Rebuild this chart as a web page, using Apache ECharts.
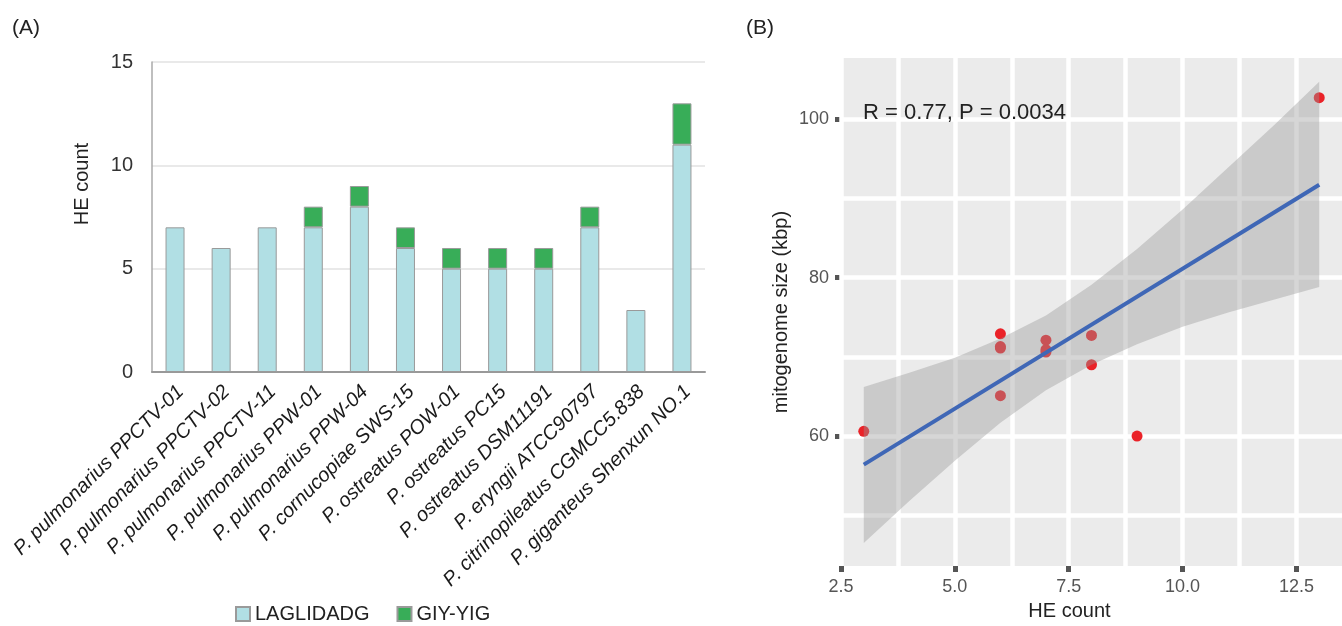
<!DOCTYPE html>
<html><head><meta charset="utf-8">
<script src="https://cdn.jsdelivr.net/npm/echarts@6/dist/echarts.min.js"></script>
<style>html,body{margin:0;padding:0;background:#fff}#c{width:1342px;height:626px}</style>
</head><body><div id="c"></div>
<script>
// ---- Panel A data ----
const strains = [
  'P. pulmonarius PPCTV-01', 'P. pulmonarius PPCTV-02', 'P. pulmonarius PPCTV-11',
  'P. pulmonarius PPW-01', 'P. pulmonarius PPW-04', 'P. cornucopiae SWS-15',
  'P. ostreatus POW-01', 'P. ostreatus PC15', 'P. ostreatus DSM11191',
  'P. eryngii ATCC90797', 'P. citrinopileatus CGMCC5.838', 'P. giganteus Shenxun NO.1'
];
const laglidadg = [7, 6, 7, 7, 8, 6, 5, 5, 5, 7, 3, 11];
const giyYig = [0, 0, 0, 1, 1, 1, 1, 1, 1, 1, 0, 2];

// ---- Panel B data ----
const heCount = [7, 6, 7, 8, 9, 7, 6, 6, 6, 8, 3, 13];
const mitoSize = [72.1, 72.9, 70.6, 72.7, 60.0, 70.9, 71.3, 65.1, 71.1, 69.0, 60.6, 102.7];
const fitX = [3, 13];
const fitY = [56.4, 91.7];
const ciX = [3, 4, 5, 6, 7, 8, 9, 10, 11, 12, 13];
const ciLow = [46.5, 51.8, 56.9, 61.7, 65.8, 69.0, 71.6, 73.8, 75.6, 77.2, 78.8];
const ciHigh = [66.2, 68.0, 69.9, 72.3, 75.2, 79.1, 83.6, 88.6, 93.9, 99.2, 104.7];
const xTicksB = [2.5, 5, 7.5, 10, 12.5];
const xMinorB = [3.75, 6.25, 8.75, 11.25];
const yTicksB = [60, 80, 100];
const yMinorB = [50, 70, 90];

const FONT = 'Liberation Sans, Arial, sans-serif';
const chart = echarts.init(document.getElementById('c'));

const gridLines = [
  ...xTicksB.map(v => ({ xAxis: v })), ...xMinorB.map(v => ({ xAxis: v })),
  ...yTicksB.map(v => ({ yAxis: v })), ...yMinorB.map(v => ({ yAxis: v }))
];

chart.setOption({
  animation: false,
  textStyle: { fontFamily: FONT },
  title: [
    { text: '(A)', left: 7, top: 13, textStyle: { fontSize: 21, fontWeight: 'normal', color: '#222', fontFamily: FONT } },
    { text: '(B)', left: 741, top: 13, textStyle: { fontSize: 21, fontWeight: 'normal', color: '#222', fontFamily: FONT } }
  ],
  legend: {
    data: ['LAGLIDADG', 'GIY-YIG'],
    left: 230, top: 599,
    itemWidth: 14, itemHeight: 14, itemGap: 27,
    icon: 'rect',
    textStyle: { fontSize: 20, color: '#222', fontFamily: FONT }
  },
  grid: [
    { left: 152, top: 62, width: 553, height: 310, containLabel: false },
    { left: 841, top: 58, width: 501, height: 510, show: true, backgroundColor: '#ebebeb', borderWidth: 0 }
  ],
  xAxis: [
    {
      type: 'category', gridIndex: 0, data: strains,
      axisLine: { lineStyle: { color: '#999', width: 2 } },
      axisTick: { show: false },
      axisLabel: {
        interval: 0, rotate: 45, margin: 11,
        formatter: v => '{a|' + v + '}',
        rich: { a: { fontSize: 20, fontStyle: 'italic', color: '#1a1a1a', fontFamily: FONT, padding: [16, 0, 0, 0] } }
      }
    },
    {
      type: 'value', gridIndex: 1, min: 2.5, max: 13.5, interval: 2.5,
      name: 'HE count', nameLocation: 'middle', nameGap: 31,
      nameTextStyle: { fontSize: 20, color: '#222', padding: [0, 44, 0, 0], fontFamily: FONT },
      axisLine: { show: false },
      axisTick: { show: true, customValues: xTicksB, length: 6, lineStyle: { color: '#555', width: 5 } },
      axisLabel: { customValues: xTicksB, fontSize: 18, color: '#555', margin: 12, formatter: v => v.toFixed(1), fontFamily: FONT },
      splitLine: { show: false }
    }
  ],
  yAxis: [
    {
      type: 'value', gridIndex: 0, min: 0, max: 15, interval: 5,
      name: 'HE count', nameLocation: 'middle', nameGap: 60,
      nameTextStyle: { fontSize: 20, color: '#222', padding: [0, 0, 0, 66], fontFamily: FONT },
      axisLine: { show: true, lineStyle: { color: '#aaa', width: 1.5 } },
      axisTick: { show: false },
      axisLabel: { fontSize: 20, color: '#333', margin: 19, fontFamily: FONT },
      splitLine: { lineStyle: { color: '#e2e2e2', width: 1.5 } }
    },
    {
      type: 'value', gridIndex: 1, min: 43.6, max: 107.7,
      name: 'mitogenome size (kbp)', nameLocation: 'middle', nameGap: 50,
      nameTextStyle: { fontSize: 20, color: '#222', fontFamily: FONT },
      axisLine: { show: false },
      axisTick: { show: true, customValues: yTicksB, length: 6, lineStyle: { color: '#555', width: 5 } },
      axisLabel: { customValues: yTicksB, fontSize: 18, color: '#555', margin: 12, fontFamily: FONT },
      splitLine: { show: false }
    }
  ],
  graphic: [
    { type: 'text', left: 863, top: 102, z: 100,
      style: { text: 'R = 0.77, P = 0.0034', font: '22px Liberation Sans, Arial, sans-serif', fill: '#222' } }
  ],
  series: [
    {
      name: 'LAGLIDADG', type: 'bar', stack: 'he', xAxisIndex: 0, yAxisIndex: 0,
      data: laglidadg, barWidth: 19,
      itemStyle: { color: '#b1dfe4', borderColor: '#9a9a9a', borderWidth: 1 }
    },
    {
      name: 'GIY-YIG', type: 'bar', stack: 'he', xAxisIndex: 0, yAxisIndex: 0,
      data: giyYig.map(v => (v === 0 ? null : v)), barWidth: 19,
      itemStyle: { color: '#38ad58', borderColor: '#9a9a9a', borderWidth: 1 }
    },
    {
      name: 'grid', type: 'line', xAxisIndex: 1, yAxisIndex: 1, z: 1,
      data: fitX.map((x, i) => [x, fitY[i]]), showSymbol: false, silent: true,
      lineStyle: { opacity: 0 },
      markLine: {
        z: 1, silent: true, symbol: ['none', 'none'], label: { show: false },
        lineStyle: { color: '#ffffff', width: 4.5, type: 'solid' },
        emphasis: { disabled: true },
        data: gridLines
      }
    },
    {
      name: 'points', type: 'scatter', xAxisIndex: 1, yAxisIndex: 1, z: 3,
      data: heCount.map((x, i) => [x, mitoSize[i]]),
      symbolSize: 11, itemStyle: { color: '#ea2228', opacity: 1 }
    },
    {
      name: 'ci', type: 'custom', xAxisIndex: 1, yAxisIndex: 1, z: 4, silent: true,
      data: ciX.map((x, i) => [x, ciLow[i], ciHigh[i]]),
      encode: { x: 0, y: [1, 2] },
      renderItem: function (params, api) {
        if (params.dataIndex !== 0) return null;
        const pts = [];
        for (let i = 0; i < ciX.length; i++) pts.push(api.coord([ciX[i], ciHigh[i]]));
        for (let i = ciX.length - 1; i >= 0; i--) pts.push(api.coord([ciX[i], ciLow[i]]));
        return { type: 'polygon', shape: { points: pts }, style: { fill: 'rgba(153,153,153,0.4)' } };
      }
    },
    {
      name: 'fit', type: 'line', xAxisIndex: 1, yAxisIndex: 1, z: 5,
      data: fitX.map((x, i) => [x, fitY[i]]), showSymbol: false,
      lineStyle: { color: '#3f67b6', width: 4 }
    }
  ]
});
</script>
</body></html>
